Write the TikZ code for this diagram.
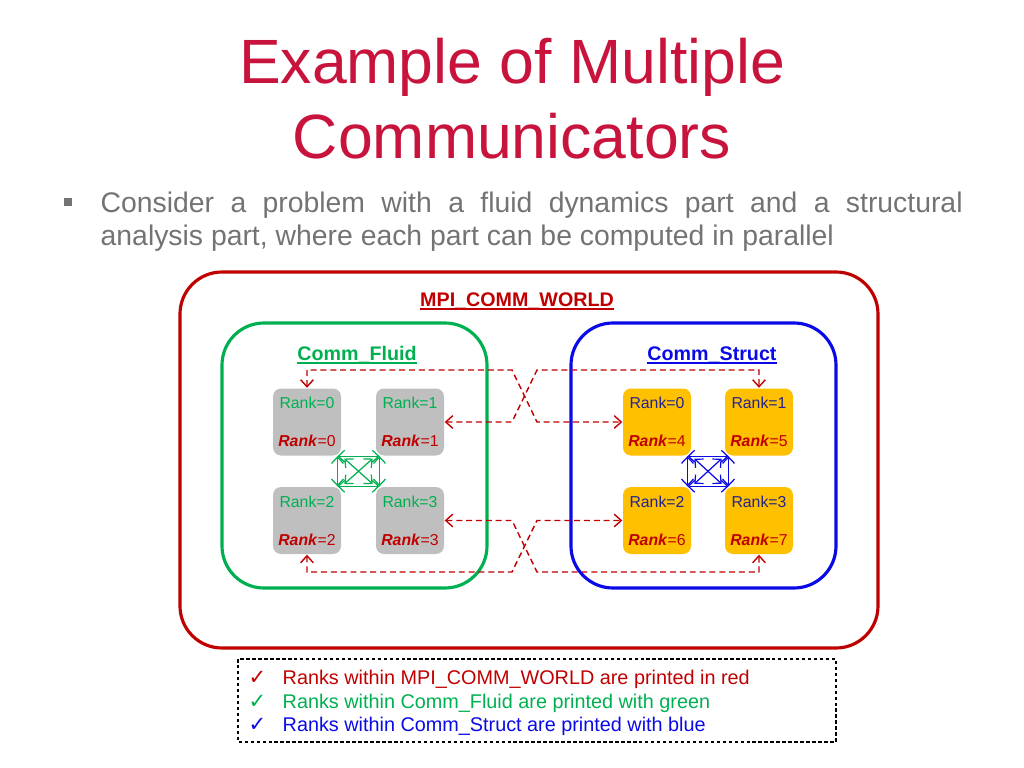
\documentclass[tikz,border=0pt]{standalone}
\usepackage{fontspec}
\setmainfont{Liberation Sans}
\newfontfamily\ticksym{DejaVu Sans}
\usepackage{xcolor}
\usepackage{tikz}
\usetikzlibrary{arrows.meta,calc}

\definecolor{titlered}{RGB}{200,20,60}
\definecolor{bodygray}{RGB}{115,115,115}
\definecolor{worldred}{RGB}{192,0,0}
\definecolor{fluidgreen}{RGB}{0,176,80}
\definecolor{structblue}{RGB}{10,10,230}
\definecolor{navyrank}{RGB}{35,35,140}
\definecolor{rankgray}{RGB}{191,191,191}
\definecolor{rankorange}{RGB}{255,192,0}

\begin{document}
\begin{tikzpicture}[
    every node/.style={inner sep=0pt},
    rankbox/.style={rounded corners=0.08cm, minimum width=0.68cm, minimum height=0.67cm,
        align=center, font=\fontsize{4.5}{5.4}\selectfont},
    fluidrank/.style={rankbox, fill=rankgray},
    structrank/.style={rankbox, fill=rankorange},
    commbox/.style={line width=0.9pt, rounded corners=0.42cm},
    boxlabel/.style={anchor=base, font=\fontsize{5.6}{6.7}\selectfont\bfseries},
    underbar/.style={line width=0.55pt},
    worldlink/.style={worldred, line width=0.4pt, dash pattern=on 1.7pt off 1.1pt,
        {Straight Barb[length=2pt,width=3.6pt]}-{Straight Barb[length=2pt,width=3.6pt]}},
    mesh/.style={line width=0.35pt,
        {Straight Barb[length=1.8pt,width=3.4pt]}-{Straight Barb[length=1.8pt,width=3.4pt]}},
    legendline/.style={anchor=base west, font=\fontsize{5.64}{6.8}\selectfont},
]
    \useasboundingbox (0,0) rectangle (10.24,-7.68);

    % Title
    \node [anchor=base, titlered, font=\fontsize{17.8}{21}\selectfont] (title1) at (5.12,-0.83) {Example of Multiple};
    \node [anchor=base, titlered, font=\fontsize{17.8}{21}\selectfont] (title2) at (5.12,-1.58) {Communicators};

    % Bullet text
    \node [fill=bodygray, minimum size=0.075cm] (bullet) at (0.68,-2.02) {};
    \node [anchor=base west, bodygray, font=\fontsize{8.07}{9.7}\selectfont] (line1) at (1.00,-2.12)
        {\makebox[8.62cm][s]{Consider a problem with a fluid dynamics part and a structural}};
    \node [anchor=base west, bodygray, font=\fontsize{8.07}{9.7}\selectfont] (line2) at (1.00,-2.45)
        {analysis part, where each part can be computed in parallel};

    % MPI_COMM_WORLD
    \draw [commbox, worldred] (1.80,-2.72) rectangle (8.78,-6.48);
    \node [boxlabel, worldred] (world) at (5.17,-3.06) {MPI\_COMM\_WORLD};
    \draw [underbar, worldred] ([yshift=-0.8pt]world.base west) -- ([yshift=-0.8pt]world.base east);

    % Comm_Fluid and Comm_Struct
    \draw [commbox, fluidgreen] (2.22,-3.23) rectangle (4.87,-5.88);
    \draw [commbox, structblue] (5.71,-3.23) rectangle (8.36,-5.88);
    \node [boxlabel, fluidgreen] (fluid) at (3.57,-3.60) {Comm\_Fluid};
    \node [boxlabel, structblue] (struct) at (7.12,-3.60) {Comm\_Struct};
    \draw [underbar, fluidgreen] ([yshift=-0.8pt]fluid.base west) -- ([yshift=-0.8pt]fluid.base east);
    \draw [underbar, structblue] ([yshift=-0.8pt]struct.base west) -- ([yshift=-0.8pt]struct.base east);

    % Ranks
    \foreach \nm/\x/\y/\r/\w in {f0/3.07/-4.22/0/0, f1/4.10/-4.22/1/1, f2/3.07/-5.205/2/2, f3/4.10/-5.205/3/3}
        \node [fluidrank] (\nm) at (\x,\y)
            {\textcolor{fluidgreen}{Rank=\r}\\[5.4pt]\textcolor{worldred}{\textbf{\textit{Rank}}=\w}};
    \foreach \nm/\x/\y/\r/\w in {s0/6.57/-4.22/0/4, s1/7.59/-4.22/1/5, s2/6.57/-5.205/2/6, s3/7.59/-5.205/3/7}
        \node [structrank] (\nm) at (\x,\y)
            {\textcolor{navyrank}{Rank=\r}\\[5.4pt]\textcolor{worldred}{\textbf{\textit{Rank}}=\w}};

    % all-to-all inside each communicator
    \foreach \a/\b/\c/\d/\col in {f0/f1/f2/f3/fluidgreen, s0/s1/s2/s3/structblue} {
        \draw [mesh, \col, shorten <=-1.2pt, shorten >=-1.2pt] (\a.south east) -- (\b.south west);
        \draw [mesh, \col, shorten <=-1.2pt, shorten >=-1.2pt] (\c.north east) -- (\d.north west);
        \draw [mesh, \col] ([xshift=-1.2pt]\a.south east) -- ([xshift=-1.2pt]\c.north east);
        \draw [mesh, \col] ([xshift=1.2pt]\b.south west) -- ([xshift=1.2pt]\d.north west);
        \draw [mesh, \col, shorten <=1pt, shorten >=1pt] (\a.south east) -- (\d.north west);
        \draw [mesh, \col, shorten <=1pt, shorten >=1pt] (\b.south west) -- (\c.north east);
    }

    % links across MPI_COMM_WORLD
    \draw [worldlink] (f0.north) |- (5.12,-3.70) -- (5.37,-4.22) -- (s0.west);
    \draw [worldlink] (f1.east) -- (5.12,-4.22) -- (5.37,-3.70) -| (s1.north);
    \draw [worldlink] (f3.east) -- (5.12,-5.205) -- (5.37,-5.72) -| (s3.south);
    \draw [worldlink] (f2.south) |- (5.12,-5.72) -- (5.37,-5.205) -- (s2.west);

    % Legend
    \draw [line width=0.3pt, dash pattern=on 1pt off 0.7pt] (2.38,-6.59) rectangle (8.36,-7.42);
    \node [legendline, worldred] (tick1) at (2.48,-6.84) {\ticksym\fontsize{6}{7}\selectfont ✓};
    \node [legendline, fluidgreen] (tick2) at (2.48,-7.08) {\ticksym\fontsize{6}{7}\selectfont ✓};
    \node [legendline, structblue] (tick3) at (2.48,-7.31) {\ticksym\fontsize{6}{7}\selectfont ✓};
    \node [legendline, worldred] (key1) at (2.82,-6.84) {Ranks within MPI\_COMM\_WORLD are printed in red};
    \node [legendline, fluidgreen] (key2) at (2.82,-7.08) {Ranks within Comm\_Fluid are printed with green};
    \node [legendline, structblue] (key3) at (2.82,-7.31) {Ranks within Comm\_Struct are printed with blue};
\end{tikzpicture}
\end{document}
